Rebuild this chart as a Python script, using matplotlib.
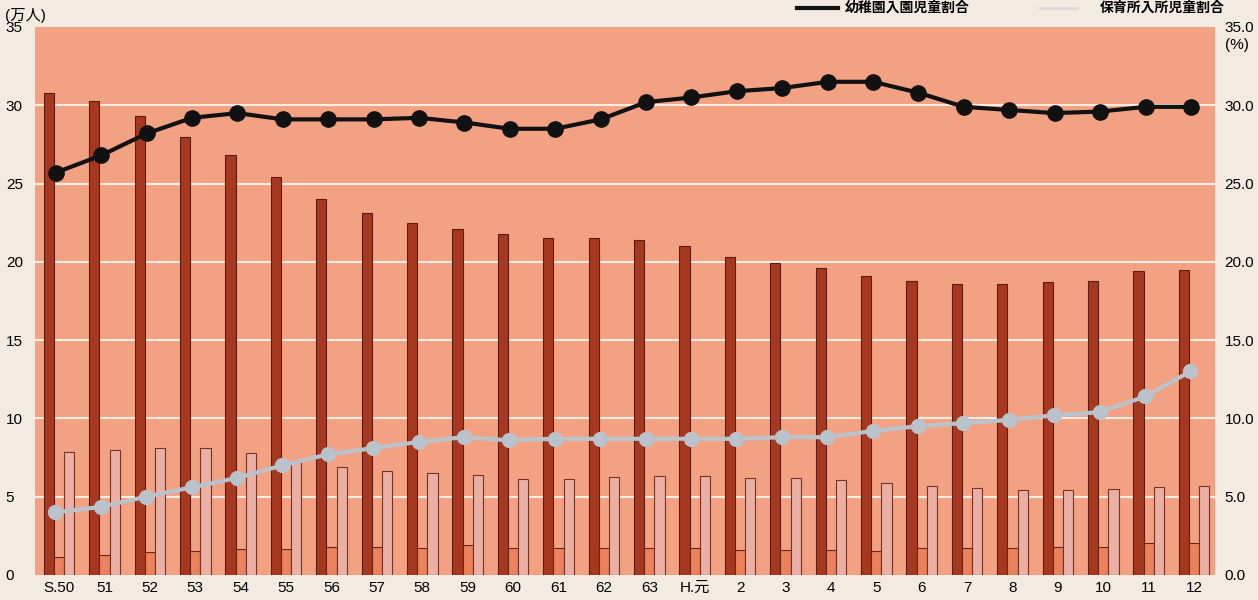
import matplotlib
matplotlib.use('Agg')
import matplotlib.pyplot as plt
from matplotlib.lines import Line2D
import numpy as np

plt.rcParams['font.family'] = ['Liberation Sans', 'Noto Sans CJK JP', 'DejaVu Sans']

# 年度ラベル
years = ['S.50', '51', '52', '53', '54', '55', '56', '57', '58', '59', '60', '61', '62', '63',
         'H.元', '2', '3', '4', '5', '6', '7', '8', '9', '10', '11', '12']

# 棒グラフ (万人)
bar_dark = [30.8, 30.3, 29.3, 28.0, 26.8, 25.4, 24.0, 23.1, 22.5, 22.1, 21.8, 21.5, 21.5,
            21.4, 21.0, 20.3, 19.9, 19.6, 19.1, 18.8, 18.6, 18.6, 18.7, 18.8, 19.4, 19.5]
bar_small = [1.15, 1.3, 1.45, 1.55, 1.65, 1.65, 1.8, 1.8, 1.75, 1.9, 1.75, 1.75, 1.75,
             1.75, 1.75, 1.6, 1.6, 1.6, 1.55, 1.7, 1.7, 1.7, 1.8, 1.8, 2.05, 2.05]
bar_pink = [7.85, 8.0, 8.1, 8.1, 7.8, 7.2, 6.9, 6.65, 6.5, 6.4, 6.1, 6.1, 6.25,
            6.3, 6.3, 6.2, 6.2, 6.05, 5.9, 5.7, 5.55, 5.45, 5.45, 5.5, 5.6, 5.7]

# 折れ線 (%)
kinder_rate = [25.7, 26.8, 28.2, 29.2, 29.5, 29.1, 29.1, 29.1, 29.2, 28.9, 28.5, 28.5, 29.1,
               30.2, 30.5, 30.9, 31.1, 31.5, 31.5, 30.8, 29.9, 29.7, 29.5, 29.6, 29.9, 29.9]
nursery_rate = [4.0, 4.35, 5.0, 5.6, 6.2, 7.0, 7.7, 8.1, 8.5, 8.8, 8.6, 8.7, 8.7,
                8.7, 8.7, 8.7, 8.8, 8.8, 9.2, 9.5, 9.7, 9.9, 10.2, 10.4, 11.4, 13.0]

x = np.arange(len(years))
w = 0.225

fig = plt.figure(figsize=(12.58, 6.0), dpi=100, facecolor='#F3EAE2')
ax = fig.add_axes([0.0278, 0.0417, 0.938, 0.9133])
ax.set_facecolor('#F2A283')

# 白い目盛線
for v in range(5, 35, 5):
    ax.axhline(v, color='#FCEDE3', lw=1.5, zorder=1)

ax.bar(x - w, bar_dark, width=w, color='#A6381F', edgecolor='#5E1A0E', lw=0.8, zorder=2)
ax.bar(x, bar_small, width=w, color='#E9825D', edgecolor='#6E2414', lw=0.8, zorder=2)
ax.bar(x + w, bar_pink, width=w, color='#EAB0A6', edgecolor='#7A3020', lw=0.8, zorder=2)

ax.set_xlim(-0.53, 25.46)
ax.set_ylim(0, 35)
ax.set_xticks(x)
ax.set_xticklabels(years, fontsize=11)
ax.set_yticks(range(0, 36, 5))
ax.set_yticklabels([str(v) for v in range(0, 36, 5)], fontsize=11, ha='left')
ax.tick_params(axis='y', length=0, pad=21)
ax.tick_params(axis='x', length=0, pad=4)
for s in ax.spines.values():
    s.set_visible(False)

ax2 = ax.twinx()
ax2.set_ylim(0, 35)
ax2.plot(x - 0.07, kinder_rate, color='#111111', lw=3, marker='o', ms=11, zorder=5)
ax2.plot(x - 0.08, nursery_rate, color='#BAC3CB', lw=3, marker='o', ms=10, zorder=5)
ax2.set_yticks(range(0, 36, 5))
ax2.set_yticklabels(['%.1f' % v for v in range(0, 36, 5)], fontsize=11)
ax2.tick_params(axis='y', length=0, pad=7)
for s in ax2.spines.values():
    s.set_visible(False)

# 単位
fig.text(0.004, 0.974, '(万人)', fontsize=11, va='center', ha='left')
fig.text(0.974, 0.925, '(%)', fontsize=11, va='center', ha='left')

# 凡例
fig.add_artist(Line2D([797 / 1258, 838 / 1258], [0.987, 0.987], color='#111111', lw=3,
                      transform=fig.transFigure))
fig.text(845 / 1258, 0.987, '幼稚園入園児童割合', fontsize=10, va='center', ha='left',
         fontweight='bold')
fig.add_artist(Line2D([1040 / 1258, 1077 / 1258], [0.987, 0.987], color='#DCD6D6', lw=2,
                      transform=fig.transFigure))
fig.text(1100 / 1258, 0.987, '保育所入所児童割合', fontsize=10, va='center', ha='left',
         fontweight='bold')

fig.savefig('out.png', dpi=100, facecolor=fig.get_facecolor())
